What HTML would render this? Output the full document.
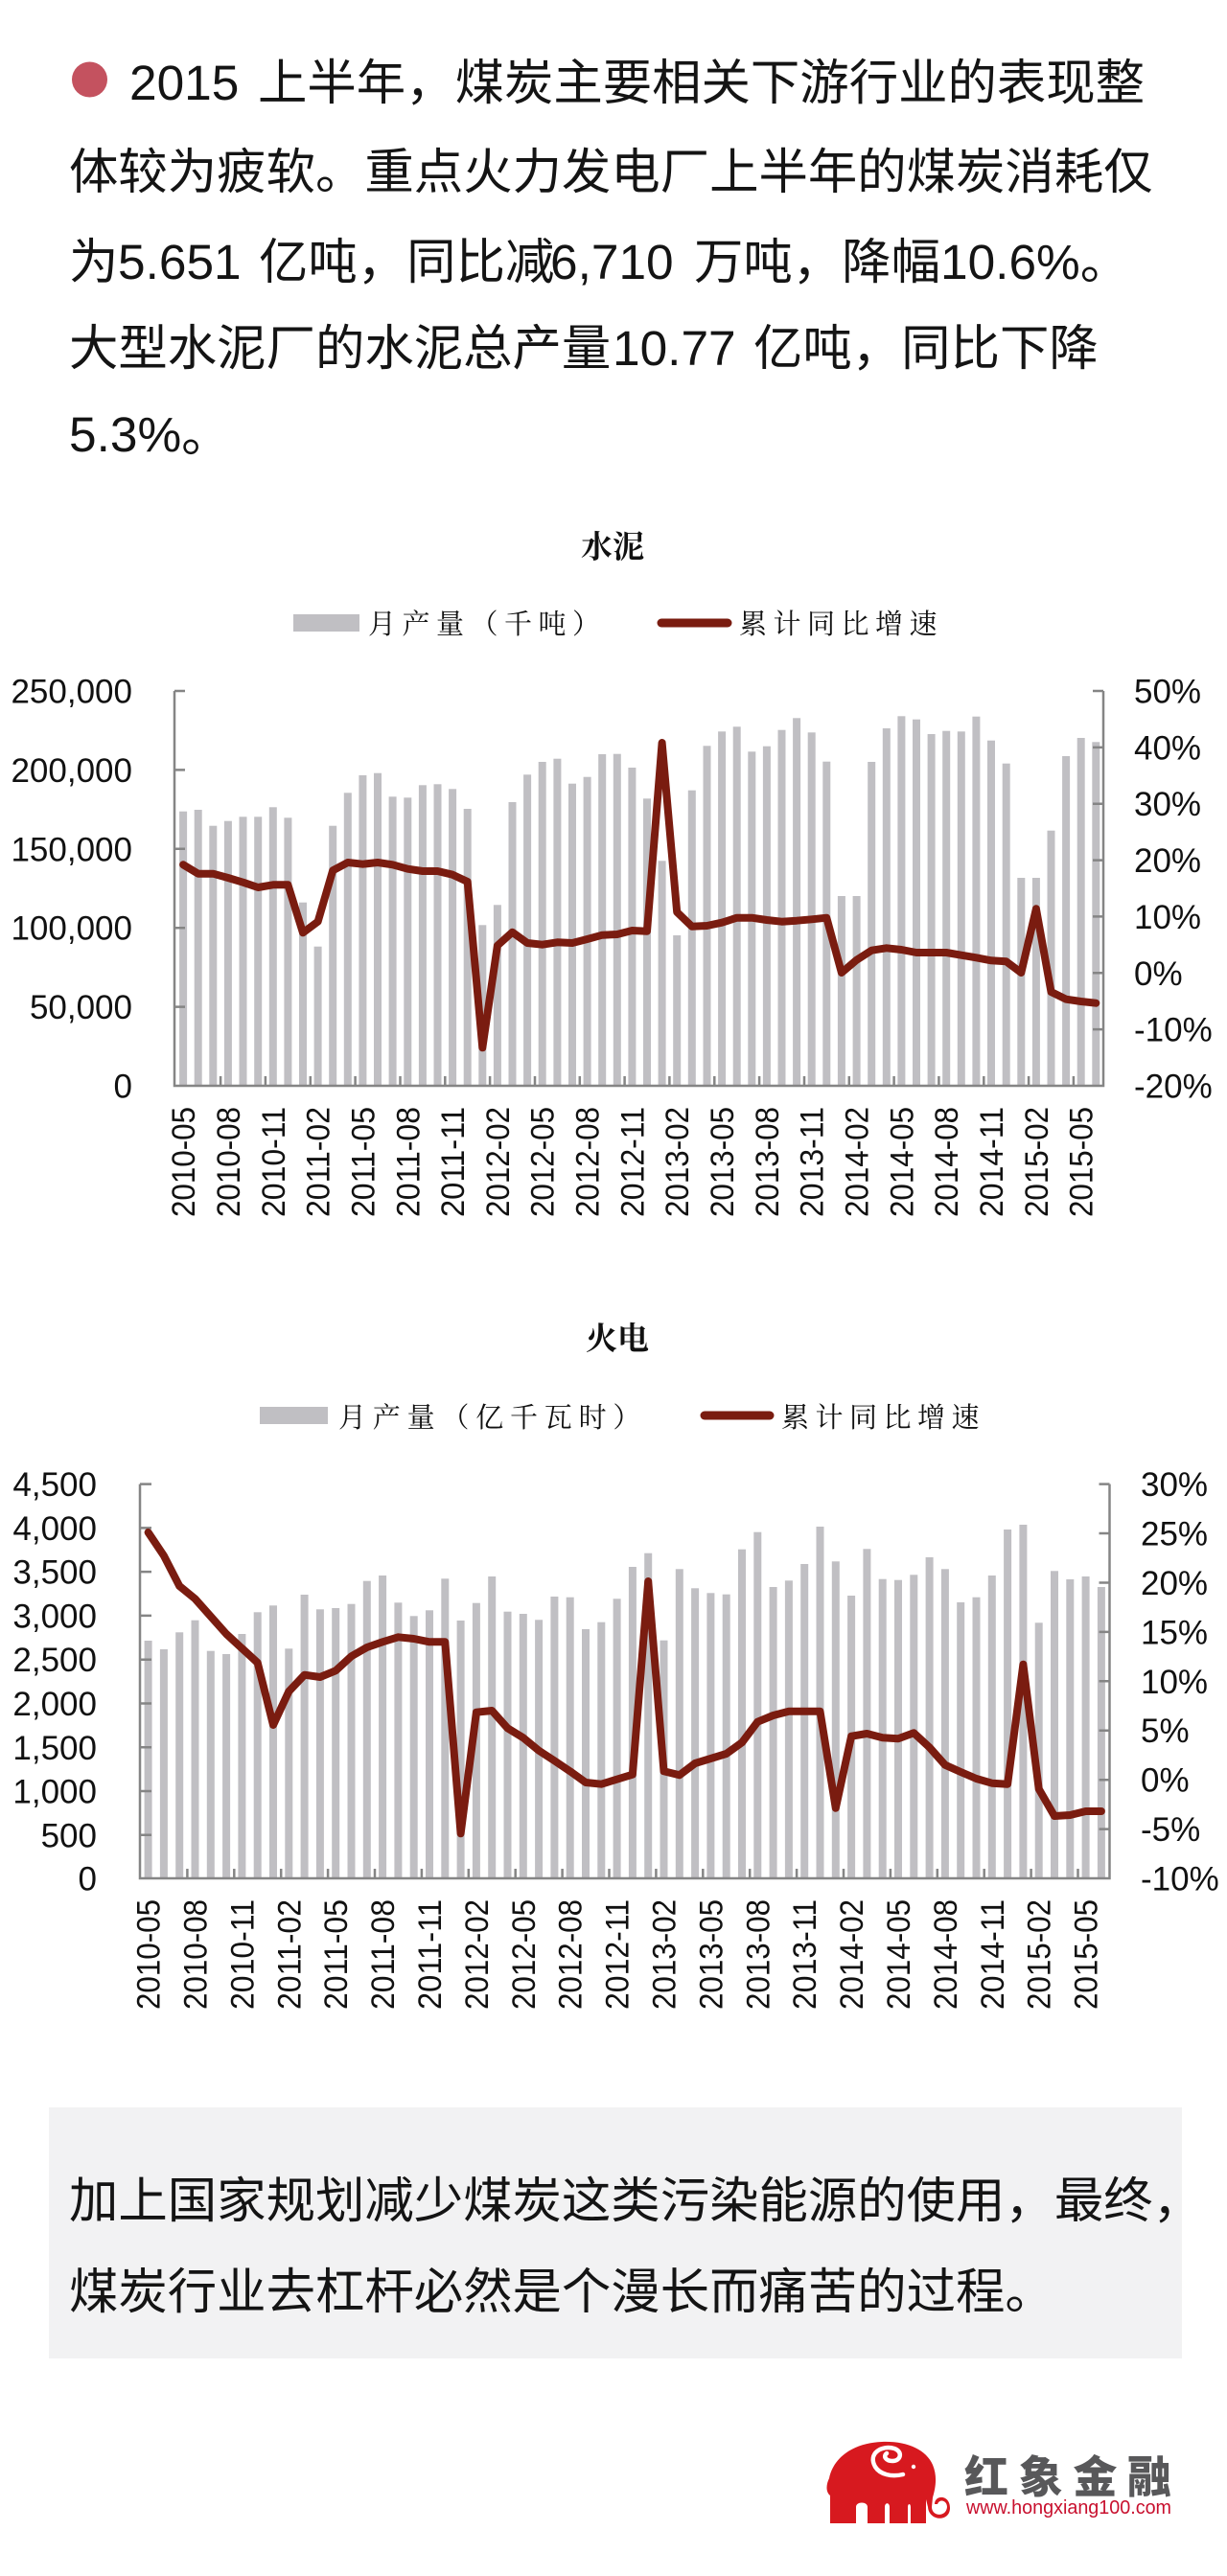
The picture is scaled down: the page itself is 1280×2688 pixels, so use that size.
<!DOCTYPE html>
<html><head><meta charset="utf-8"><style>
html,body{margin:0;padding:0;background:#fff;}
svg{display:block;}
.cn{font-family:"Liberation Sans","Noto Sans CJK SC",sans-serif;}
.ax{font-family:"Liberation Sans",sans-serif;}
.lg{font-family:"Noto Serif CJK SC","Noto Sans CJK SC",serif;}
</style></head><body>
<svg width="1280" height="2688" viewBox="0 0 1280 2688" xmlns="http://www.w3.org/2000/svg">
<rect width="1280" height="2688" fill="#fff"/>

<!-- Header paragraph -->
<circle cx="93.5" cy="83" r="18.5" fill="#c4525f"/>
<g class="cn" font-size="51.4" fill="#141414">
<text y="104"><tspan x="135">2015</tspan><tspan x="269">上半年，煤炭主要相关下游行业的表现整</tspan></text>
<text x="72" y="197">体较为疲软。重点火力发电厂上半年的煤炭消耗仅</text>
<text y="291"><tspan x="72">为</tspan><tspan x="123">5.651</tspan><tspan x="270">亿吨，同比减</tspan><tspan x="574">6,710</tspan><tspan x="724">万吨，降幅</tspan><tspan x="981">10.6%。</tspan></text>
<text y="381"><tspan x="72">大型水泥厂的水泥总产量</tspan><tspan x="639">10.77</tspan><tspan x="786">亿吨，同比下降</tspan></text>
<text x="72" y="471">5.3%。</text>
</g>

<!-- ================= Chart 1 水泥 ================= -->
<text x="639" y="582" text-anchor="middle" class="lg" font-weight="bold" font-size="33" fill="#111">水泥</text>
<rect x="306" y="641" width="69" height="18" fill="#c0bfc3"/>
<text x="384" y="661" class="lg" font-size="29" letter-spacing="6.5" fill="#111">月产量（千吨）</text>
<line x1="690" y1="650" x2="759" y2="650" stroke="#7a1c10" stroke-width="9" stroke-linecap="round"/>
<text x="771" y="661" class="lg" font-size="29" letter-spacing="6.5" fill="#111">累计同比增速</text>

<g fill="#c0bfc3">
<rect x="187.1" y="846.7" width="8" height="286.3"/><rect x="202.7" y="845" width="8" height="288"/><rect x="218.3" y="861.7" width="8" height="271.3"/><rect x="233.9" y="856.7" width="8" height="276.3"/><rect x="249.5" y="852.3" width="8" height="280.7"/><rect x="265.2" y="852.3" width="8" height="280.7"/><rect x="280.8" y="842.3" width="8" height="290.7"/><rect x="296.4" y="853.3" width="8" height="279.7"/><rect x="312.0" y="941.7" width="8" height="191.3"/><rect x="327.6" y="987.7" width="8" height="145.3"/><rect x="343.2" y="861.7" width="8" height="271.3"/><rect x="358.8" y="827.3" width="8" height="305.7"/><rect x="374.4" y="809" width="8" height="324"/><rect x="390.0" y="806.7" width="8" height="326.3"/><rect x="405.6" y="831.3" width="8" height="301.7"/><rect x="421.3" y="832.3" width="8" height="300.7"/><rect x="436.9" y="819.3" width="8" height="313.7"/><rect x="452.5" y="818.3" width="8" height="314.7"/><rect x="468.1" y="823.3" width="8" height="309.7"/><rect x="483.7" y="844" width="8" height="289"/><rect x="499.3" y="965.3" width="8" height="167.7"/><rect x="514.9" y="944.3" width="8" height="188.7"/><rect x="530.5" y="837" width="8" height="296"/><rect x="546.1" y="808.3" width="8" height="324.7"/><rect x="561.7" y="795" width="8" height="338"/><rect x="577.4" y="791.7" width="8" height="341.3"/><rect x="593.0" y="817.7" width="8" height="315.3"/><rect x="608.6" y="810.7" width="8" height="322.3"/><rect x="624.2" y="787" width="8" height="346"/><rect x="639.8" y="786.7" width="8" height="346.3"/><rect x="655.4" y="801" width="8" height="332"/><rect x="671.0" y="833.3" width="8" height="299.7"/><rect x="686.6" y="898.3" width="8" height="234.7"/><rect x="702.2" y="976" width="8" height="157"/><rect x="717.8" y="824.7" width="8" height="308.3"/><rect x="733.5" y="778.3" width="8" height="354.7"/><rect x="749.1" y="763.3" width="8" height="369.7"/><rect x="764.7" y="758.3" width="8" height="374.7"/><rect x="780.3" y="784.3" width="8" height="348.7"/><rect x="795.9" y="778.7" width="8" height="354.3"/><rect x="811.5" y="761.7" width="8" height="371.3"/><rect x="827.1" y="749.3" width="8" height="383.7"/><rect x="842.7" y="764.3" width="8" height="368.7"/><rect x="858.3" y="794.7" width="8" height="338.3"/><rect x="873.9" y="935" width="8" height="198"/><rect x="889.6" y="935" width="8" height="198"/><rect x="905.2" y="795" width="8" height="338"/><rect x="920.8" y="760" width="8" height="373"/><rect x="936.4" y="747.3" width="8" height="385.7"/><rect x="952.0" y="750.7" width="8" height="382.3"/><rect x="967.6" y="766" width="8" height="367"/><rect x="983.2" y="762.7" width="8" height="370.3"/><rect x="998.8" y="763.3" width="8" height="369.7"/><rect x="1014.4" y="747.7" width="8" height="385.3"/><rect x="1030.0" y="772.7" width="8" height="360.3"/><rect x="1045.7" y="796.7" width="8" height="336.3"/><rect x="1061.3" y="916" width="8" height="217"/><rect x="1076.9" y="916" width="8" height="217"/><rect x="1092.5" y="866.7" width="8" height="266.3"/><rect x="1108.1" y="789" width="8" height="344"/><rect x="1123.7" y="770" width="8" height="363"/><rect x="1139.3" y="774.3" width="8" height="358.7"/>
</g>

<!-- axes chart 1 -->
<g stroke="#858585" stroke-width="2.5" fill="none">
<path d="M182 721 V1133 H1151 V721"/>
<path d="M182 721 h11 M182 803.4 h11 M182 885.8 h11 M182 968.2 h11 M182 1050.6 h11"/>
<path d="M1151 721 h-11 M1151 779.9 h-11 M1151 838.7 h-11 M1151 897.6 h-11 M1151 956.4 h-11 M1151 1015.3 h-11 M1151 1074.1 h-11"/>
<path d="M230.1 1133 v-10 M276.9 1133 v-10 M323.8 1133 v-10 M370.6 1133 v-10 M417.5 1133 v-10 M464.3 1133 v-10 M511.1 1133 v-10 M558.0 1133 v-10 M604.8 1133 v-10 M651.6 1133 v-10 M698.4 1133 v-10 M745.3 1133 v-10 M792.1 1133 v-10 M839.0 1133 v-10 M885.8 1133 v-10 M932.6 1133 v-10 M979.4 1133 v-10 M1026.3 1133 v-10 M1073.1 1133 v-10 M1119.9 1133 v-10"/>
</g>

<polyline fill="none" stroke="#7a1c10" stroke-width="8" stroke-linejoin="round" stroke-linecap="round" points="191.1,902.3 206.7,911.7 222.3,911.7 237.9,916 253.5,920.7 269.2,926 284.8,923.3 300.4,923.3 316.0,973.3 331.6,961.7 347.2,908.3 362.8,900 378.4,901.7 394.0,900 409.6,902.3 425.3,906.7 440.9,909 456.5,909 472.1,912.7 487.7,920 503.3,1093.3 518.9,986.7 534.5,972.7 550.1,984 565.7,985.7 581.4,983.3 597.0,984 612.6,980 628.2,975.7 643.8,975 659.4,971 675.0,971.7 690.6,775 706.2,951.7 721.8,966.7 737.5,966 753.1,962.7 768.7,957.7 784.3,957.7 799.9,960 815.5,961.7 831.1,960.7 846.7,959.3 862.3,957.7 877.9,1015 893.6,1001.7 909.2,991.7 924.8,989.3 940.4,991 956.0,994 971.6,994 987.2,994 1002.8,996.7 1018.4,999.3 1034.0,1002.3 1049.7,1003.3 1065.3,1015 1080.9,948.3 1096.5,1035 1112.1,1042.7 1127.7,1045 1143.3,1046.7"/>

<g class="ax" font-size="35" fill="#111" text-anchor="end">
<text x="138" y="733.5">250,000</text>
<text x="138" y="815.9">200,000</text>
<text x="138" y="898.3">150,000</text>
<text x="138" y="980.7">100,000</text>
<text x="138" y="1063.1">50,000</text>
<text x="138" y="1145.5">0</text>
</g>
<g class="ax" font-size="35" fill="#111">
<text x="1183" y="733.5">50%</text>
<text x="1183" y="792.4">40%</text>
<text x="1183" y="851.2">30%</text>
<text x="1183" y="910.1">20%</text>
<text x="1183" y="968.9">10%</text>
<text x="1183" y="1027.8">0%</text>
<text x="1183" y="1086.6">-10%</text>
<text x="1183" y="1145.5">-20%</text>
</g>
<g class="ax" font-size="34" fill="#111" text-anchor="end">
<text transform="translate(191.1,1155) rotate(-90)" dy="12" textLength="115" lengthAdjust="spacingAndGlyphs">2010-05</text>
<text transform="translate(237.9,1155) rotate(-90)" dy="12" textLength="115" lengthAdjust="spacingAndGlyphs">2010-08</text>
<text transform="translate(284.8,1155) rotate(-90)" dy="12" textLength="115" lengthAdjust="spacingAndGlyphs">2010-11</text>
<text transform="translate(331.6,1155) rotate(-90)" dy="12" textLength="115" lengthAdjust="spacingAndGlyphs">2011-02</text>
<text transform="translate(378.4,1155) rotate(-90)" dy="12" textLength="115" lengthAdjust="spacingAndGlyphs">2011-05</text>
<text transform="translate(425.3,1155) rotate(-90)" dy="12" textLength="115" lengthAdjust="spacingAndGlyphs">2011-08</text>
<text transform="translate(472.1,1155) rotate(-90)" dy="12" textLength="115" lengthAdjust="spacingAndGlyphs">2011-11</text>
<text transform="translate(518.9,1155) rotate(-90)" dy="12" textLength="115" lengthAdjust="spacingAndGlyphs">2012-02</text>
<text transform="translate(565.7,1155) rotate(-90)" dy="12" textLength="115" lengthAdjust="spacingAndGlyphs">2012-05</text>
<text transform="translate(612.6,1155) rotate(-90)" dy="12" textLength="115" lengthAdjust="spacingAndGlyphs">2012-08</text>
<text transform="translate(659.4,1155) rotate(-90)" dy="12" textLength="115" lengthAdjust="spacingAndGlyphs">2012-11</text>
<text transform="translate(706.2,1155) rotate(-90)" dy="12" textLength="115" lengthAdjust="spacingAndGlyphs">2013-02</text>
<text transform="translate(753.1,1155) rotate(-90)" dy="12" textLength="115" lengthAdjust="spacingAndGlyphs">2013-05</text>
<text transform="translate(799.9,1155) rotate(-90)" dy="12" textLength="115" lengthAdjust="spacingAndGlyphs">2013-08</text>
<text transform="translate(846.7,1155) rotate(-90)" dy="12" textLength="115" lengthAdjust="spacingAndGlyphs">2013-11</text>
<text transform="translate(893.6,1155) rotate(-90)" dy="12" textLength="115" lengthAdjust="spacingAndGlyphs">2014-02</text>
<text transform="translate(940.4,1155) rotate(-90)" dy="12" textLength="115" lengthAdjust="spacingAndGlyphs">2014-05</text>
<text transform="translate(987.2,1155) rotate(-90)" dy="12" textLength="115" lengthAdjust="spacingAndGlyphs">2014-08</text>
<text transform="translate(1034.0,1155) rotate(-90)" dy="12" textLength="115" lengthAdjust="spacingAndGlyphs">2014-11</text>
<text transform="translate(1080.9,1155) rotate(-90)" dy="12" textLength="115" lengthAdjust="spacingAndGlyphs">2015-02</text>
<text transform="translate(1127.7,1155) rotate(-90)" dy="12" textLength="115" lengthAdjust="spacingAndGlyphs">2015-05</text>
</g>

<!-- ================= Chart 2 火电 ================= -->
<text x="644" y="1408" text-anchor="middle" class="lg" font-weight="bold" font-size="33" fill="#111">火电</text>
<rect x="271" y="1468" width="71" height="18" fill="#c0bfc3"/>
<text x="353" y="1489" class="lg" font-size="29" letter-spacing="6.8" fill="#111">月产量（亿千瓦时）</text>
<line x1="735" y1="1477" x2="803" y2="1477" stroke="#7a1c10" stroke-width="9" stroke-linecap="round"/>
<text x="815" y="1489" class="lg" font-size="29" letter-spacing="6.5" fill="#111">累计同比增速</text>

<g fill="#c0bfc3">
<rect x="150.6" y="1712" width="8" height="248"/><rect x="166.9" y="1721" width="8" height="239"/><rect x="183.2" y="1703.3" width="8" height="256.7"/><rect x="199.5" y="1690.7" width="8" height="269.3"/><rect x="215.8" y="1722.7" width="8" height="237.3"/><rect x="232.1" y="1726" width="8" height="234"/><rect x="248.4" y="1705" width="8" height="255"/><rect x="264.7" y="1682.3" width="8" height="277.7"/><rect x="281.0" y="1675.3" width="8" height="284.7"/><rect x="297.3" y="1720.3" width="8" height="239.7"/><rect x="313.6" y="1664" width="8" height="296"/><rect x="329.9" y="1679.3" width="8" height="280.7"/><rect x="346.2" y="1678" width="8" height="282"/><rect x="362.5" y="1673.7" width="8" height="286.3"/><rect x="378.8" y="1649.7" width="8" height="310.3"/><rect x="395.1" y="1644" width="8" height="316"/><rect x="411.4" y="1672.3" width="8" height="287.7"/><rect x="427.7" y="1686.3" width="8" height="273.7"/><rect x="444.0" y="1680.3" width="8" height="279.7"/><rect x="460.3" y="1647.3" width="8" height="312.7"/><rect x="476.6" y="1691" width="8" height="269"/><rect x="492.9" y="1672.7" width="8" height="287.3"/><rect x="509.2" y="1645" width="8" height="315"/><rect x="525.5" y="1681.7" width="8" height="278.3"/><rect x="541.8" y="1684" width="8" height="276"/><rect x="558.1" y="1690.3" width="8" height="269.7"/><rect x="574.4" y="1666" width="8" height="294"/><rect x="590.7" y="1666.7" width="8" height="293.3"/><rect x="607.0" y="1700" width="8" height="260"/><rect x="623.3" y="1692.7" width="8" height="267.3"/><rect x="639.6" y="1668.3" width="8" height="291.7"/><rect x="655.9" y="1635" width="8" height="325"/><rect x="672.2" y="1620.7" width="8" height="339.3"/><rect x="688.5" y="1711.7" width="8" height="248.3"/><rect x="704.8" y="1637.3" width="8" height="322.7"/><rect x="721.1" y="1657.3" width="8" height="302.7"/><rect x="737.4" y="1662.3" width="8" height="297.7"/><rect x="753.7" y="1663.7" width="8" height="296.3"/><rect x="770.0" y="1616.7" width="8" height="343.3"/><rect x="786.3" y="1598.7" width="8" height="361.3"/><rect x="802.6" y="1656" width="8" height="304"/><rect x="818.9" y="1649.3" width="8" height="310.7"/><rect x="835.2" y="1632" width="8" height="328"/><rect x="851.5" y="1593" width="8" height="367"/><rect x="867.8" y="1629.3" width="8" height="330.7"/><rect x="884.1" y="1665" width="8" height="295"/><rect x="900.4" y="1616.3" width="8" height="343.7"/><rect x="916.7" y="1647.7" width="8" height="312.3"/><rect x="933.0" y="1648.7" width="8" height="311.3"/><rect x="949.3" y="1643.3" width="8" height="316.7"/><rect x="965.6" y="1625" width="8" height="335"/><rect x="981.9" y="1637.3" width="8" height="322.7"/><rect x="998.2" y="1672" width="8" height="288"/><rect x="1014.5" y="1666.7" width="8" height="293.3"/><rect x="1030.8" y="1644" width="8" height="316"/><rect x="1047.1" y="1596" width="8" height="364"/><rect x="1063.4" y="1591" width="8" height="369"/><rect x="1079.7" y="1693.3" width="8" height="266.7"/><rect x="1096.0" y="1639.3" width="8" height="320.7"/><rect x="1112.3" y="1648" width="8" height="312"/><rect x="1128.6" y="1645" width="8" height="315"/><rect x="1144.9" y="1656" width="8" height="304"/>
</g>

<g stroke="#858585" stroke-width="2.5" fill="none">
<path d="M146 1548.6 V1960 H1157.5 V1548.6"/>
<path d="M146 1548.6 h12 M146 1594.4 h12 M146 1640.1 h12 M146 1685.9 h12 M146 1731.7 h12 M146 1777.5 h12 M146 1823.3 h12 M146 1869.0 h12 M146 1914.8 h12"/>
<path d="M1157.5 1548.6 h-11 M1157.5 1600.0 h-11 M1157.5 1651.5 h-11 M1157.5 1702.9 h-11 M1157.5 1754.3 h-11 M1157.5 1805.7 h-11 M1157.5 1857.2 h-11 M1157.5 1908.6 h-11"/>
<path d="M195.4 1960 v-10 M244.3 1960 v-10 M293.2 1960 v-10 M342.1 1960 v-10 M391.0 1960 v-10 M439.9 1960 v-10 M488.8 1960 v-10 M537.7 1960 v-10 M586.6 1960 v-10 M635.5 1960 v-10 M684.4 1960 v-10 M733.3 1960 v-10 M782.2 1960 v-10 M831.1 1960 v-10 M880.0 1960 v-10 M928.9 1960 v-10 M977.8 1960 v-10 M1026.7 1960 v-10 M1075.6 1960 v-10 M1124.5 1960 v-10"/>
</g>

<polyline fill="none" stroke="#7a1c10" stroke-width="8" stroke-linejoin="round" stroke-linecap="round" points="154.6,1599 170.9,1623.3 187.2,1655 203.5,1668.3 219.8,1686.7 236.1,1705 252.4,1720 268.7,1735 285.0,1800 301.3,1765 317.6,1747.7 333.9,1750 350.2,1743.3 366.5,1728.3 382.8,1719 399.1,1713.3 415.4,1708.3 431.7,1710 448.0,1713.3 464.3,1713.3 480.6,1913.3 496.9,1786.7 513.2,1785 529.5,1803.3 545.8,1813.3 562.1,1826.7 578.4,1837.3 594.7,1848.3 611.0,1860 627.3,1861.7 643.6,1856.7 659.9,1851.7 676.2,1650 692.5,1848.3 708.8,1852.3 725.1,1840 741.4,1835 757.7,1830 774.0,1818.3 790.3,1796.7 806.6,1790 822.9,1785.7 839.2,1785.7 855.5,1785.7 871.8,1886.7 888.1,1811.7 904.4,1809 920.7,1813.3 937.0,1814.3 953.3,1808.3 969.6,1823.3 985.9,1841.7 1002.2,1849 1018.5,1856 1034.8,1860.7 1051.1,1861.7 1067.4,1736.7 1083.7,1866.7 1100.0,1895 1116.3,1894 1132.6,1890 1148.9,1890"/>

<g class="ax" font-size="35" fill="#111" text-anchor="end">
<text x="101" y="1561.1">4,500</text>
<text x="101" y="1606.9">4,000</text>
<text x="101" y="1652.6">3,500</text>
<text x="101" y="1698.4">3,000</text>
<text x="101" y="1744.2">2,500</text>
<text x="101" y="1790.0">2,000</text>
<text x="101" y="1835.8">1,500</text>
<text x="101" y="1881.5">1,000</text>
<text x="101" y="1927.3">500</text>
<text x="101" y="1972.5">0</text>
</g>
<g class="ax" font-size="35" fill="#111">
<text x="1190" y="1561.1">30%</text>
<text x="1190" y="1612.5">25%</text>
<text x="1190" y="1664.0">20%</text>
<text x="1190" y="1715.4">15%</text>
<text x="1190" y="1766.8">10%</text>
<text x="1190" y="1818.2">5%</text>
<text x="1190" y="1869.7">0%</text>
<text x="1190" y="1921.1">-5%</text>
<text x="1190" y="1972.5">-10%</text>
</g>
<g class="ax" font-size="34" fill="#111" text-anchor="end">
<text transform="translate(154.6,1982) rotate(-90)" dy="12" textLength="115" lengthAdjust="spacingAndGlyphs">2010-05</text>
<text transform="translate(203.5,1982) rotate(-90)" dy="12" textLength="115" lengthAdjust="spacingAndGlyphs">2010-08</text>
<text transform="translate(252.4,1982) rotate(-90)" dy="12" textLength="115" lengthAdjust="spacingAndGlyphs">2010-11</text>
<text transform="translate(301.3,1982) rotate(-90)" dy="12" textLength="115" lengthAdjust="spacingAndGlyphs">2011-02</text>
<text transform="translate(350.2,1982) rotate(-90)" dy="12" textLength="115" lengthAdjust="spacingAndGlyphs">2011-05</text>
<text transform="translate(399.1,1982) rotate(-90)" dy="12" textLength="115" lengthAdjust="spacingAndGlyphs">2011-08</text>
<text transform="translate(448.0,1982) rotate(-90)" dy="12" textLength="115" lengthAdjust="spacingAndGlyphs">2011-11</text>
<text transform="translate(496.9,1982) rotate(-90)" dy="12" textLength="115" lengthAdjust="spacingAndGlyphs">2012-02</text>
<text transform="translate(545.8,1982) rotate(-90)" dy="12" textLength="115" lengthAdjust="spacingAndGlyphs">2012-05</text>
<text transform="translate(594.7,1982) rotate(-90)" dy="12" textLength="115" lengthAdjust="spacingAndGlyphs">2012-08</text>
<text transform="translate(643.6,1982) rotate(-90)" dy="12" textLength="115" lengthAdjust="spacingAndGlyphs">2012-11</text>
<text transform="translate(692.5,1982) rotate(-90)" dy="12" textLength="115" lengthAdjust="spacingAndGlyphs">2013-02</text>
<text transform="translate(741.4,1982) rotate(-90)" dy="12" textLength="115" lengthAdjust="spacingAndGlyphs">2013-05</text>
<text transform="translate(790.3,1982) rotate(-90)" dy="12" textLength="115" lengthAdjust="spacingAndGlyphs">2013-08</text>
<text transform="translate(839.2,1982) rotate(-90)" dy="12" textLength="115" lengthAdjust="spacingAndGlyphs">2013-11</text>
<text transform="translate(888.1,1982) rotate(-90)" dy="12" textLength="115" lengthAdjust="spacingAndGlyphs">2014-02</text>
<text transform="translate(937.0,1982) rotate(-90)" dy="12" textLength="115" lengthAdjust="spacingAndGlyphs">2014-05</text>
<text transform="translate(985.9,1982) rotate(-90)" dy="12" textLength="115" lengthAdjust="spacingAndGlyphs">2014-08</text>
<text transform="translate(1034.8,1982) rotate(-90)" dy="12" textLength="115" lengthAdjust="spacingAndGlyphs">2014-11</text>
<text transform="translate(1083.7,1982) rotate(-90)" dy="12" textLength="115" lengthAdjust="spacingAndGlyphs">2015-02</text>
<text transform="translate(1132.6,1982) rotate(-90)" dy="12" textLength="115" lengthAdjust="spacingAndGlyphs">2015-05</text>
</g>

<!-- Bottom box -->
<rect x="51" y="2199" width="1182" height="262" fill="#f2f2f3"/>
<g class="cn" font-size="51.4" fill="#141414">
<text x="72" y="2314">加上国家规划减少煤炭这类污染能源的使用，最终，</text>
<text x="72" y="2409">煤炭行业去杠杆必然是个漫长而痛苦的过程。</text>
</g>

<!-- Logo -->
<g>
<path fill="#d7191f" d="M866 2633 L866 2604 C861 2600 862 2592 865 2586 C870 2562 893 2549 920 2548 C946 2547 966 2556 973 2572 C978 2584 976 2596 973 2606 L972 2616 C972 2626 987 2627 988 2616 C988 2609 980 2607 978 2613 L975 2613 C975 2603 991 2603 991 2617 C991 2632 969 2631 968 2616 L966 2608 L966 2633 L950 2633 L950 2616 C950 2612 947 2612 947 2616 L947 2633 L928 2633 L928 2616 C928 2611 923 2611 923 2616 L923 2633 L905 2633 L905 2616 C905 2610 893 2610 893 2616 L893 2633 Z"/>
<path fill="none" stroke="#fff" stroke-width="4.5" stroke-linecap="round" d="M913 2574 C905 2560 920 2551 933 2555 C942 2558 940 2568 931 2568 C924 2568 921 2563 925 2560 M913 2574 C918 2582 930 2585 942 2582"/>
<circle cx="953" cy="2574" r="2.2" fill="#fff"/>
<text x="1006" y="2601" class="cn" font-size="46" font-weight="900" fill="#58585a" textLength="216" lengthAdjust="spacing">红象金融</text>
<text x="1008" y="2623" class="ax" font-size="20" fill="#c8102e" textLength="214" lengthAdjust="spacingAndGlyphs">www.hongxiang100.com</text>
</g>
</svg>
</body></html>
